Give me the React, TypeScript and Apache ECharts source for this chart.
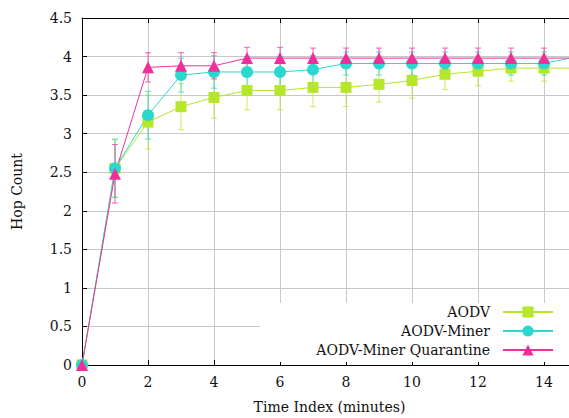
import React, { useEffect, useRef } from 'react';
import * as echarts from 'echarts';

const timeIndex = [0, 1, 2, 3, 4, 5, 6, 7, 8, 9, 10, 11, 12, 13, 14, 15];
const aodv = [0, 2.55, 3.15, 3.35, 3.47, 3.56, 3.56, 3.6, 3.6, 3.64, 3.69, 3.77, 3.81, 3.85, 3.85, 3.85];
const aodvErr = [0, 0.37, 0.35, 0.3, 0.27, 0.25, 0.25, 0.25, 0.25, 0.23, 0.23, 0.2, 0.19, 0.17, 0.17, 0.17];
const miner = [0, 2.55, 3.24, 3.76, 3.8, 3.8, 3.8, 3.83, 3.91, 3.91, 3.91, 3.91, 3.91, 3.91, 3.91, 4.0];
const minerErr = [0, 0.38, 0.31, 0.22, 0.21, 0.2, 0.2, 0.18, 0.15, 0.15, 0.15, 0.15, 0.15, 0.15, 0.15, 0.15];
const quar = [0, 2.48, 3.86, 3.88, 3.88, 3.98, 3.98, 3.98, 3.98, 3.98, 3.98, 3.98, 3.98, 3.98, 3.98, 3.98];
const quarErr = [0, 0.38, 0.19, 0.17, 0.17, 0.14, 0.14, 0.13, 0.13, 0.13, 0.13, 0.13, 0.13, 0.13, 0.13, 0.13];

const seriesNames = ['AODV', 'AODV-Miner', 'AODV-Miner Quarantine'];
const colors = ['#b5e62a', '#2ad8d0', '#f0309a'];
const symbols = ['rect', 'circle', 'triangle'];
const symbolSizes = [11, 12, 12];

const FONT = 'DejaVu Serif';
const FS = 14;

export default function App() {
  const ref = useRef<HTMLDivElement>(null);
  useEffect(() => {
    document.body.style.margin = '0';
    document.body.style.overflow = 'hidden';
    if (!ref.current) return;
    const chart = echarts.init(ref.current, undefined, { renderer: 'svg' });
    const values = [aodv, miner, quar];
    const errs = [aodvErr, minerErr, quarErr];
    const series: any[] = [];
    values.forEach((vals, i) => {
      const color = colors[i];
      series.push({
        type: 'custom',
        name: seriesNames[i] + ' err',
        data: timeIndex.map((t, k) => [t, vals[k], errs[i][k]]),
        clip: false,
        renderItem: (params: any, api: any) => {
          const x = api.value(0);
          const y = api.value(1);
          const e = api.value(2);
          if (!(e > 0)) return null;
          const hi = api.coord([x, y + e]);
          const lo = api.coord([x, y - e]);
          const cw = 3;
          const style = { stroke: color, lineWidth: 1, opacity: 0.75 };
          return {
            type: 'group',
            children: [
              { type: 'line', shape: { x1: hi[0], y1: hi[1], x2: lo[0], y2: lo[1] }, style },
              { type: 'line', shape: { x1: hi[0] - cw, y1: hi[1], x2: hi[0] + cw, y2: hi[1] }, style },
              { type: 'line', shape: { x1: lo[0] - cw, y1: lo[1], x2: lo[0] + cw, y2: lo[1] }, style },
            ],
          };
        },
        silent: true,
      });
      series.push({
        type: 'line',
        name: seriesNames[i],
        data: timeIndex.map((t, k) => [t, vals[k]]),
        symbol: symbols[i],
        symbolSize: symbolSizes[i],
        showAllSymbol: true,
        lineStyle: { color, width: 1 },
        itemStyle: { color },
        clip: false,
      });
    });

    const legendTops = [305, 324, 343];
    const legends = seriesNames.map((name, i) => ({
      data: [name],
      right: 15,
      top: legendTops[i],
      align: 'right',
      orient: 'vertical',
      padding: 0,
      itemWidth: 50,
      itemHeight: 14,
      selectedMode: false,
      textStyle: { fontFamily: FONT, fontSize: FS, color: '#111', padding: [0, 8, 0, 0] },
    }));

    chart.setOption({
      animation: false,
      backgroundColor: '#fff',
      grid: { left: 82, top: 18, width: 495, height: 347, outerBoundsMode: 'none', containLabel: false },
      xAxis: [
        {
          type: 'value',
          min: 0,
          max: 15,
          interval: 2,
          name: 'Time Index (minutes)',
          nameLocation: 'middle',
          nameGap: 35,
          nameTextStyle: { fontFamily: FONT, fontSize: FS, color: '#111' },
          axisLine: { lineStyle: { color: '#000', width: 1 } },
          axisTick: { inside: true, length: 5, lineStyle: { color: '#000' } },
          axisLabel: {
            fontFamily: FONT,
            fontSize: FS,
            color: '#111',
            margin: 10,
            formatter: (v: number) => (v > 14 ? '' : String(v)),
          },
          splitLine: { show: true, lineStyle: { color: '#c8c8c8', width: 1 } },
        },
        {
          type: 'value',
          position: 'top',
          min: 0,
          max: 15,
          interval: 2,
          axisLine: { lineStyle: { color: '#000', width: 1 } },
          axisTick: { inside: true, length: 5, lineStyle: { color: '#000' } },
          axisLabel: { show: false },
          splitLine: { show: false },
        },
      ],
      yAxis: {
        type: 'value',
        min: 0,
        max: 4.5,
        interval: 0.5,
        name: 'Hop Count',
        nameLocation: 'middle',
        nameGap: 58,
        nameTextStyle: { fontFamily: FONT, fontSize: FS, color: '#111' },
        axisLine: { show: true, lineStyle: { color: '#000', width: 1 } },
        axisTick: { show: true, inside: true, length: 5, lineStyle: { color: '#000' } },
        axisLabel: { fontFamily: FONT, fontSize: FS, color: '#111', margin: 10 },
        splitLine: { show: true, lineStyle: { color: '#c8c8c8', width: 1 } },
      },
      legend: legends,
      graphic: [
        {
          type: 'rect',
          z: 1,
          shape: { x: 260, y: 303, width: 320, height: 59 },
          style: { fill: '#fff' },
          silent: true,
        },
      ],
      series,
    });
    return () => chart.dispose();
  }, []);
  return (
    <div
      ref={ref}
      style={{ position: 'fixed', left: 0, top: 0, width: 569, height: 418, overflow: 'hidden' }}
    />
  );
}
